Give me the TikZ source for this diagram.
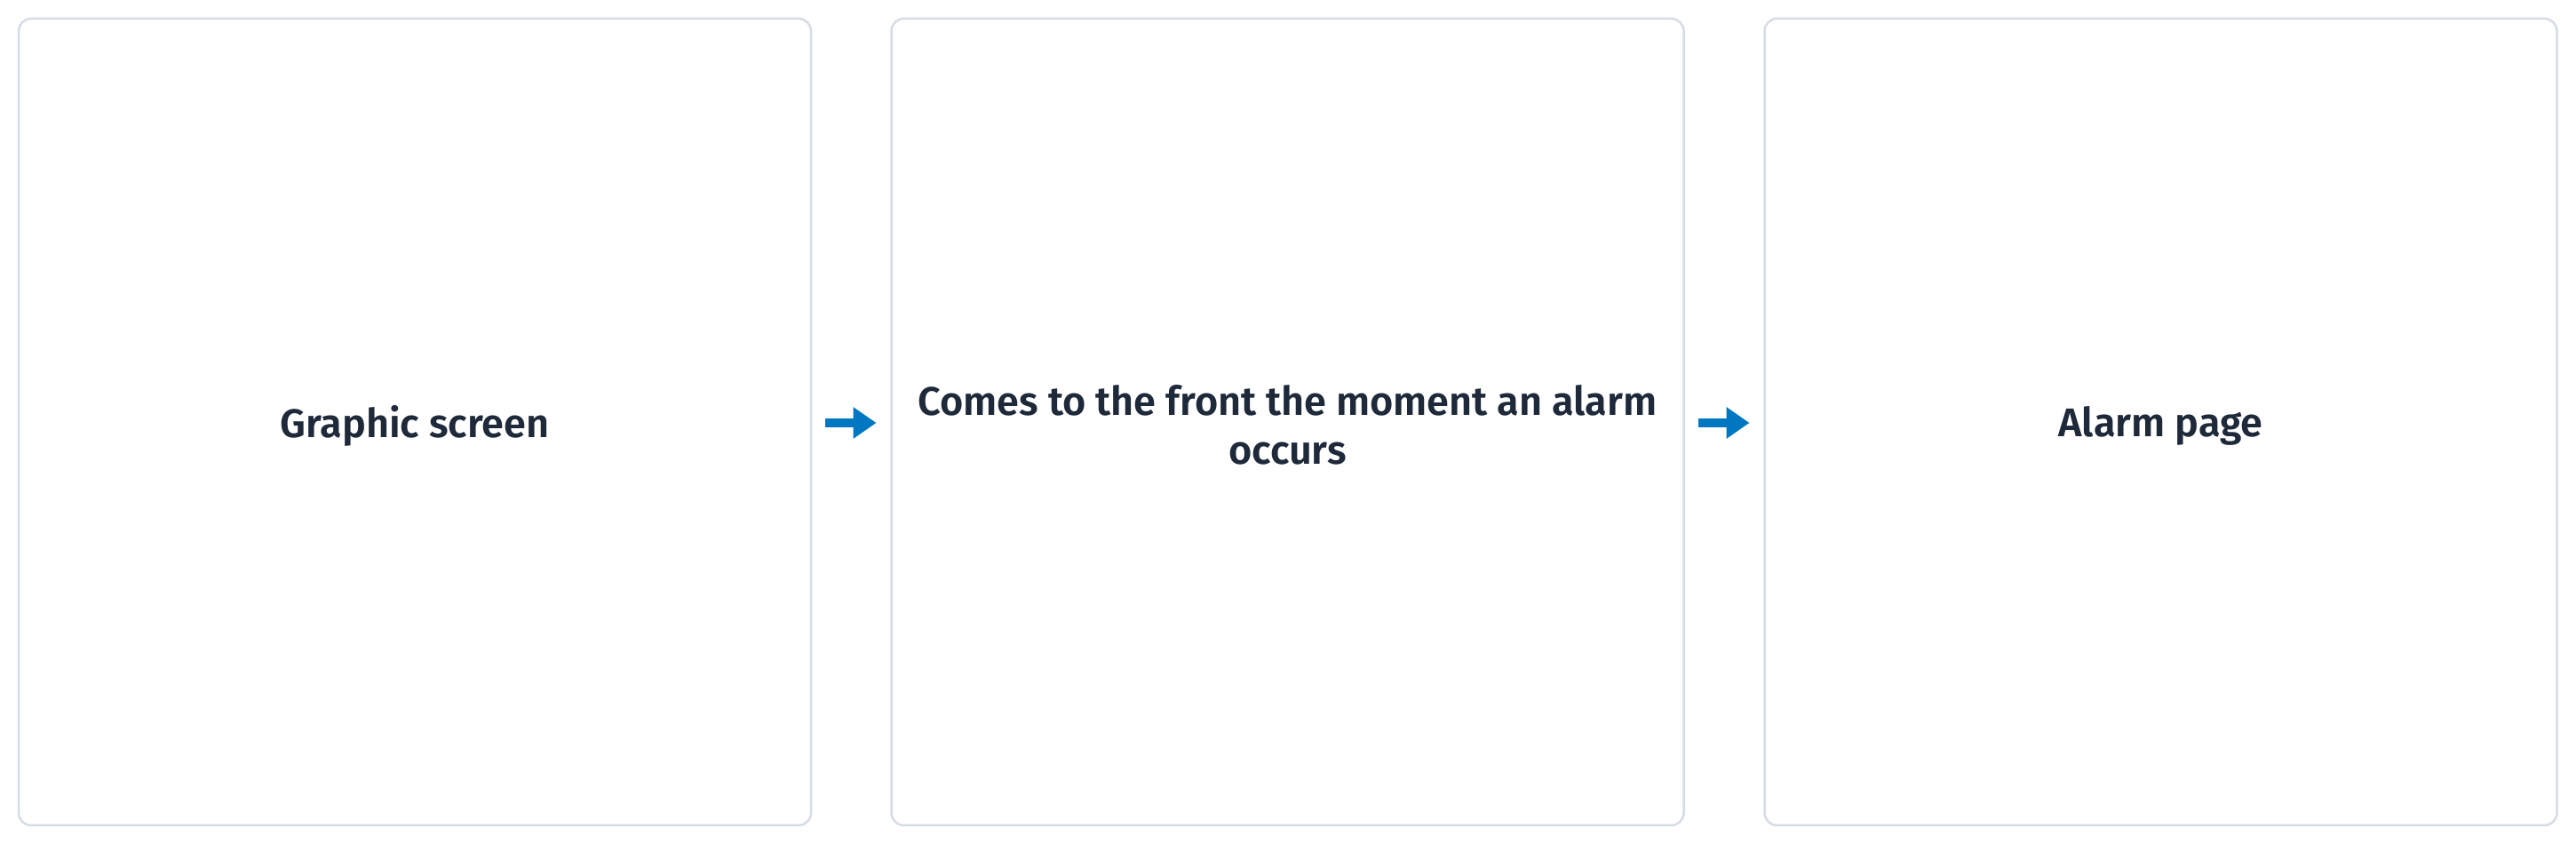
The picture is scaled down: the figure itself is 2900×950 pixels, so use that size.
\documentclass[tikz,border=0pt]{standalone}
\usepackage{fontspec}
\setmainfont{Fira Sans}
\newfontfamily\labfont{Fira Sans SemiBold}
\usetikzlibrary{arrows.meta}
\definecolor{boxline}{HTML}{D6DCE5}
\definecolor{labtext}{HTML}{1E2939}
\definecolor{arrowblue}{HTML}{0077C0}
\begin{document}
\begin{tikzpicture}[x=1pt,y=1pt,
  card/.style={draw=boxline,line width=2.5pt,rounded corners=14pt,fill=white,
    minimum width=892pt,minimum height=908pt,inner sep=0pt,outer sep=0pt},
  lab/.style={text=labtext,font=\labfont\fontsize{45}{55}\selectfont,align=center,inner sep=0pt},
  flow/.style={draw=arrowblue,line width=10pt,-{Triangle[length=26pt,width=34pt]},shorten <=16pt,shorten >=17pt}]
\useasboundingbox (0,0) rectangle (2900,950);
\node[card] (b1) at (467,475) {};
\node[card] (b2) at (1449.5,475) {};
\node[card] (b3) at (2432.5,475) {};
\node[lab] (t1) at (467,471) {Graphic screen};
\node[lab] (t2) at (1449.5,472) {Comes to the front the moment an alarm\\occurs};
\node[lab] (t3) at (2432.5,471) {Alarm page};
\draw[flow] (b1.east |- 0,474) -- (b2.west |- 0,474);
\draw[flow] (b2.east |- 0,474) -- (b3.west |- 0,474);
\end{tikzpicture}
\end{document}
